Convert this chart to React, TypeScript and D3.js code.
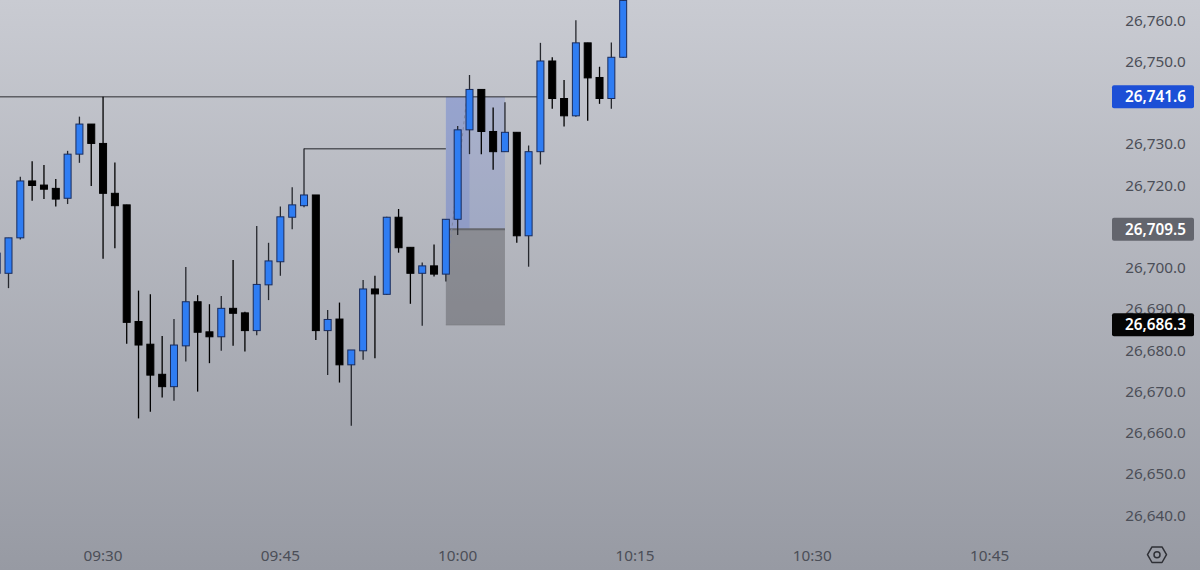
import React from "react";
import * as d3 from "d3";

const times = [
  "09:21","09:22","09:23","09:24","09:25","09:26","09:27","09:28","09:29","09:30",
  "09:31","09:32","09:33","09:34","09:35","09:36","09:37","09:38","09:39","09:40",
  "09:41","09:42","09:43","09:44","09:45","09:46","09:47","09:48","09:49","09:50",
  "09:51","09:52","09:53","09:54","09:55","09:56","09:57","09:58","09:59","10:00",
  "10:01","10:02","10:03","10:04","10:05","10:06","10:07","10:08","10:09","10:10",
  "10:11","10:12","10:13","10:14",
];
const opens = [
  26698.8, 26698.8, 26707.4, 26721.2, 26720.2, 26719.4, 26717.0, 26727.7, 26735.0, 26730.3,
  26718.2, 26715.4, 26687.1, 26681.6, 26674.3, 26671.3, 26681.2, 26691.9, 26684.6, 26683.4,
  26690.3, 26689.2, 26684.9, 26696.0, 26701.6, 26712.4, 26715.2, 26717.8, 26684.9, 26687.7,
  26676.6, 26680.0, 26695.0, 26693.7, 26712.4, 26705.1, 26698.8, 26700.6, 26698.6, 26711.9,
  26733.6, 26743.4, 26733.2, 26728.3, 26733.0, 26707.9, 26728.3, 26750.3, 26741.2, 26737.0,
  26754.7, 26746.3, 26741.2, 26751.2,
];
const highs = [
  26705.0, 26707.4, 26722.2, 26726.0, 26725.1, 26721.7, 26728.5, 26736.8, 26735.0, 26741.6,
  26725.7, 26715.4, 26694.6, 26693.7, 26683.6, 26687.7, 26700.3, 26693.5, 26691.3, 26693.3,
  26702.0, 26689.5, 26710.3, 26706.2, 26715.0, 26719.7, 26729.1, 26717.8, 26689.9, 26691.7,
  26680.2, 26697.2, 26698.2, 26712.5, 26714.4, 26705.1, 26701.4, 26705.8, 26712.0, 26734.5,
  26746.9, 26743.4, 26739.0, 26740.3, 26733.0, 26729.8, 26754.7, 26751.2, 26745.7, 26760.2,
  26754.7, 26748.9, 26754.8, 26765.5,
];
const lows = [
  26697.0, 26695.2, 26707.0, 26716.4, 26716.8, 26715.0, 26715.6, 26725.6, 26720.0, 26702.3,
  26704.9, 26681.7, 26663.6, 26665.2, 26668.7, 26667.9, 26677.4, 26670.1, 26677.0, 26680.0,
  26681.2, 26679.8, 26683.8, 26692.3, 26698.2, 26709.5, 26714.8, 26682.6, 26674.1, 26672.3,
  26661.8, 26677.8, 26678.2, 26693.6, 26703.8, 26691.4, 26686.1, 26698.0, 26696.8, 26708.1,
  26727.7, 26727.7, 26723.9, 26728.3, 26706.2, 26700.4, 26725.2, 26738.7, 26734.4, 26736.8,
  26735.8, 26739.9, 26738.7, 26751.0,
];
const closes = [
  26703.7, 26707.4, 26721.2, 26720.1, 26719.2, 26716.8, 26727.7, 26735.0, 26730.3, 26718.2,
  26715.2, 26686.9, 26681.4, 26674.1, 26671.3, 26681.4, 26691.9, 26684.5, 26683.4, 26690.3,
  26689.1, 26684.9, 26696.1, 26701.8, 26712.5, 26715.4, 26717.8, 26684.9, 26687.6, 26676.6,
  26680.2, 26695.0, 26693.8, 26712.4, 26705.0, 26698.8, 26700.6, 26698.6, 26711.9, 26733.6,
  26743.4, 26733.2, 26728.3, 26733.0, 26707.9, 26728.3, 26750.3, 26741.2, 26737.0, 26754.7,
  26746.2, 26741.2, 26751.2, 26765.0,
];

const priceTicks = [26640, 26650, 26660, 26670, 26680, 26690, 26700, 26710, 26720, 26730, 26740, 26750, 26760];
const priceTickShow = [26640, 26650, 26660, 26670, 26680, 26690, 26700, 26720, 26730, 26750, 26760];
const timeTicks = ["09:30", "09:45", "10:00", "10:15", "10:30", "10:45"];

// annotations
const highLevel = 26741.6;
const highLevelFrom = "09:21";
const highLevelTo = "10:07";
const midLevel = 26729.0;
const midLevelFrom = "09:47";
const midLevelTo = "09:59";
const entryLevel = 26709.5;
const stopLevel = 26686.3;
const boxFrom = "09:59";
const boxTo = "10:04";
const boxFilledTo = "10:01";
const badgeLevels = [26741.6, 26709.5, 26686.3];
const badgeColors = ["#1c4fd6", "#63656d", "#050505"];

const toMin = (s: string) => {
  const [h, m] = s.split(":").map(Number);
  return h * 60 + m;
};

const fmt = d3.format(",.1f");

export default function App() {
  const W = 1200, H = 570;
  const x = d3.scaleLinear().domain([toMin("09:22"), toMin("10:45")]).range([8.5, 989.6]);
  const y = d3.scaleLinear().domain([26640, 26760]).range([515.7, 21]);
  const bodyW = 7;
  const font = "'Noto Sans', 'DejaVu Sans', sans-serif";

  const hexCx = 1157, hexCy = 554.7;
  const hex = [
    [hexCx - 9.5, hexCy], [hexCx - 5, hexCy - 7.8], [hexCx + 5, hexCy - 7.8],
    [hexCx + 9.5, hexCy], [hexCx + 5, hexCy + 7.8], [hexCx - 5, hexCy + 7.8],
  ].map((p) => p.join(",")).join(" ");

  const bx0 = x(toMin(boxFrom));
  const bx1 = x(toMin(boxTo));
  const bxf = x(toMin(boxFilledTo));

  return (
    <svg width={W} height={H} style={{ position: "fixed", left: 0, top: 0, display: "block" }}>
      <defs>
        <linearGradient id="bg" x1="0" y1="0" x2="0" y2="1">
          <stop offset="0%" stopColor="#c9cbd2" />
          <stop offset="100%" stopColor="#979aa3" />
        </linearGradient>
        <clipPath id="plot">
          <rect x={0} y={0} width={1100} height={535} />
        </clipPath>
      </defs>
      <rect x={0} y={0} width={W} height={H} fill="url(#bg)" />

      <g clipPath="url(#plot)">
        {/* position boxes */}
        <rect x={bx0} y={y(highLevel)} width={bx1 - bx0} height={y(entryLevel) - y(highLevel)} fill="rgba(55,95,220,0.16)" />
        <rect x={bx0} y={y(highLevel)} width={bxf - bx0} height={y(entryLevel) - y(highLevel)} fill="rgba(55,95,220,0.16)" />
        <rect x={bx0} y={y(entryLevel)} width={bx1 - bx0} height={y(stopLevel) - y(entryLevel)} fill="rgba(70,70,76,0.38)" />
        <line x1={bx0} x2={bx1} y1={y(entryLevel)} y2={y(entryLevel)} stroke="#66676d" strokeWidth={2} />
        <line x1={bx0} x2={bx1} y1={y(stopLevel)} y2={y(stopLevel)} stroke="#7d7e84" strokeWidth={1} />
        <line x1={x(toMin(boxFrom)) + 1} y1={y(opens[38] + 0.2)} x2={bxf - 3} y2={y(highLevel) + 3}
          stroke="#7f86a0" strokeWidth={1} strokeDasharray="3,3" />

        {/* levels */}
        <line x1={x(toMin(highLevelFrom)) - 20} x2={x(toMin(highLevelTo))} y1={y(highLevel)} y2={y(highLevel)} stroke="#2b2c30" strokeWidth={1} />
        <line x1={x(toMin(midLevelFrom))} x2={x(toMin(midLevelTo))} y1={y(midLevel)} y2={y(midLevel)} stroke="#55575d" strokeWidth={1.5} />

        {/* candles */}
        {times.map((t, i) => {
          const cx = x(toMin(t));
          const o = opens[i], c = closes[i], h = highs[i], l = lows[i];
          const up = c >= o;
          const top = y(Math.max(o, c));
          const bot = y(Math.min(o, c));
          const bh = Math.max(bot - top, 1);
          return (
            <g key={t}>
              <line x1={cx} x2={cx} y1={y(h)} y2={y(l)} stroke={up ? "#26282e" : "#000"} strokeWidth={1.3} />
              <rect x={cx - bodyW / 2} y={top} width={bodyW} height={bh}
                fill={up ? "#2f7df3" : "#000"} stroke={up ? "#1a2c5c" : "#000"} strokeWidth={1} />
            </g>
          );
        })}
      </g>

      {/* price axis */}
      {priceTicks.filter((v) => priceTickShow.includes(v)).map((v) => (
        <text key={v} x={1155.5} y={y(v) + 4.8} textAnchor="middle" fontFamily={font} fontSize={15.3} fill="#4b4e57">
          {fmt(v)}
        </text>
      ))}
      {badgeLevels.map((v, i) => (
        <g key={v}>
          <rect x={1112} y={y(v) - 11.5} width={82} height={23} rx={2} fill={badgeColors[i]} />
          <text x={1155.5} y={y(v) + 5.5} textAnchor="middle" fontFamily={font} fontSize={15.3} fontWeight={600} fill="#ffffff">
            {fmt(v)}
          </text>
        </g>
      ))}

      {/* time axis */}
      {timeTicks.map((t) => (
        <text key={t} x={x(toMin(t))} y={561} textAnchor="middle" fontFamily={font} fontSize={15.3} fill="#4b4e57">
          {t}
        </text>
      ))}

      <polygon points={hex} fill="none" stroke="#2f3036" strokeWidth={1.5} strokeLinejoin="round" />
      <circle cx={hexCx} cy={hexCy} r={3} fill="none" stroke="#2f3036" strokeWidth={1.5} />
    </svg>
  );
}
